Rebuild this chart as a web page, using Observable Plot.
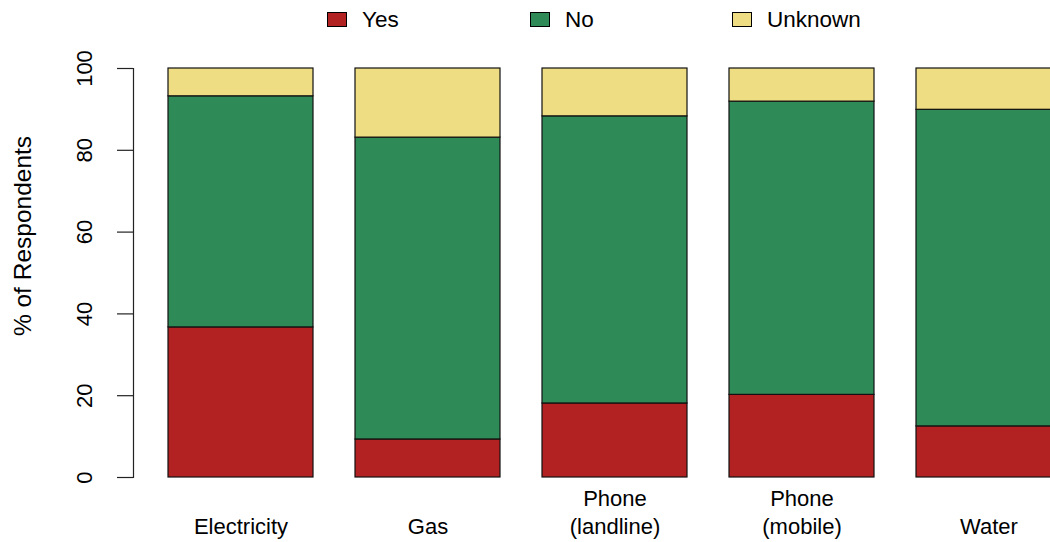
<!DOCTYPE html>
<html>
<head>
<meta charset="utf-8">
<script src="https://cdn.jsdelivr.net/npm/d3@7"></script>
<script src="https://cdn.jsdelivr.net/npm/@observablehq/plot@0.6"></script>
<style>
  html, body { margin: 0; padding: 0; background: #fff; overflow: hidden; }
  #wrap { position: relative; width: 1050px; height: 542px; font-family: "Liberation Sans", Arial, sans-serif; }
  #legend { position: absolute; left: 0; top: 0; width: 1050px; height: 40px; }
  .item { position: absolute; top: 8px; height: 24px; font-size: 22.5px; line-height: 24px; color: #000; white-space: nowrap; }
  .sw { position: absolute; left: 0; top: 4px; width: 18px; height: 13px; border: 1px solid #000; }
  .lab { position: absolute; top: 0; }
</style>
</head>
<body>
<div id="wrap"><div id="legend"></div></div>
<script>
const categories = ["Electricity", "Gas", "Phone\n(landline)", "Phone\n(mobile)", "Water"];
const responses = ["Yes", "No", "Unknown"];
const yesValues = [36.7, 9.3, 18.1, 20.2, 12.5];
const noValues = [56.5, 73.8, 70.2, 71.7, 77.4];
const unknownValues = [6.8, 16.9, 11.7, 8.1, 10.1];
const colors = ["#b22222", "#2e8b57", "#eedd82"];
const yTicks = [0, 20, 40, 60, 80, 100];
const yLabel = "% of Respondents";

const seriesValues = [yesValues, noValues, unknownValues];
const rows = [];
responses.forEach((r, j) => {
  categories.forEach((c, i) => rows.push({category: c, response: r, value: seriesValues[j][i]}));
});

const chart = Plot.plot({
  width: 1050,
  height: 542,
  marginLeft: 133,
  marginRight: 0,
  marginTop: 68,
  marginBottom: 65,
  style: {fontFamily: "Liberation Sans, Arial, sans-serif", fontSize: "22px", color: "#000", background: "#fff"},
  x: {domain: categories, range: [168, 1061], paddingInner: 0.225, paddingOuter: 0, axis: null},
  y: {domain: [0, 100], axis: null},
  color: {domain: responses, range: colors},
  marks: [
    Plot.barY(rows, {x: "category", y: "value", fill: "response", stroke: "#111", strokeWidth: 1.2}),
    Plot.frame({anchor: "left", stroke: "#222", strokeWidth: 1.2}),
    Plot.axisY({ticks: yTicks, tickSize: 16, tickFormat: () => "", label: null, stroke: "#222", strokeWidth: 1.2}),
    Plot.text(yTicks, {y: d => d, text: d => String(d), frameAnchor: "left", rotate: -90, dx: -49, textAnchor: "middle", lineAnchor: "middle", fontSize: 22, fill: "#000"}),
    Plot.text([yLabel], {text: d => d, frameAnchor: "left", rotate: -90, dx: -110, dy: -37, textAnchor: "middle", lineAnchor: "middle", fontSize: 24.5, fill: "#000"}),
    Plot.text(categories, {x: d => d, text: d => d, frameAnchor: "bottom", lineAnchor: "bottom", dy: 56, lineHeight: 1.27, textAnchor: "middle", fontSize: 22, fill: "#000"})
  ]
});
document.getElementById("wrap").appendChild(chart);

const legendLeft = [327, 530, 732];
const legend = document.getElementById("legend");
responses.forEach((r, i) => {
  const it = document.createElement("div");
  it.className = "item";
  it.style.left = legendLeft[i] + "px";
  const sw = document.createElement("span");
  sw.className = "sw";
  sw.style.background = colors[i];
  it.appendChild(sw);
  const lab = document.createElement("span");
  lab.className = "lab";
  lab.style.left = "35px";
  lab.textContent = r;
  it.appendChild(lab);
  legend.appendChild(it);
});
</script>
</body>
</html>
